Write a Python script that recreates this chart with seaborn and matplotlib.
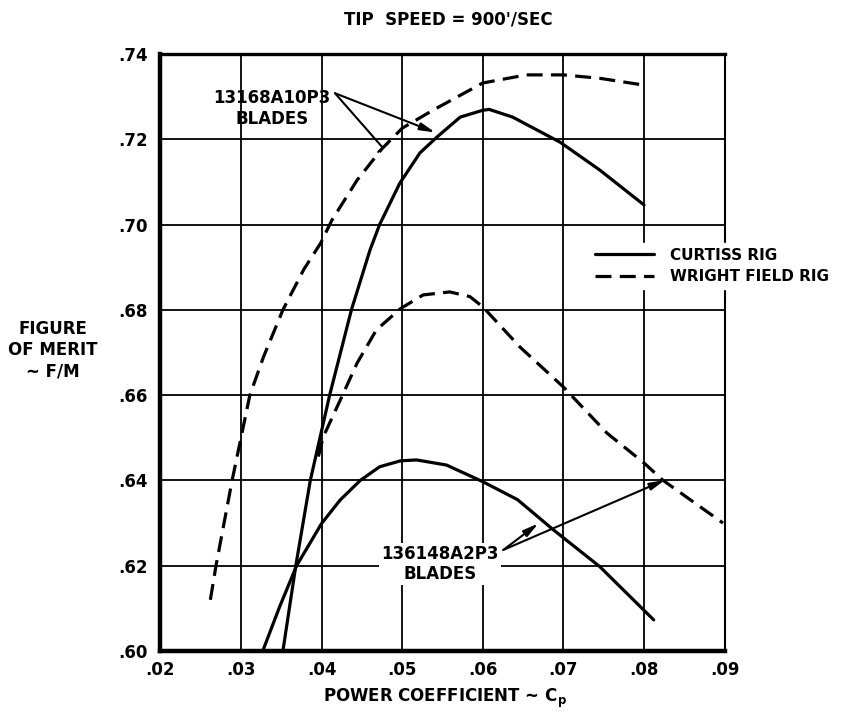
import matplotlib
matplotlib.use("Agg")
import matplotlib.pyplot as plt
import numpy as np
import pandas as pd
import seaborn as sns

# ---------------- data ----------------
rig_labels = ["CURTISS RIG", "WRIGHT FIELD RIG"]
blade_labels = ["13168A10P3", "136148A2P3"]

# 13168A10P3 blades, Curtiss rig (upper solid)
cp_curtiss_a = [0.0352, 0.0368, 0.0386, 0.0410, 0.0437, 0.0460, 0.0472, 0.0497,
                0.0522, 0.0543, 0.0572, 0.0600, 0.0608, 0.0637, 0.0696, 0.0745, 0.0800]
fm_curtiss_a = [0.600, 0.620, 0.640, 0.660, 0.680, 0.694, 0.700, 0.7097,
                0.7168, 0.7205, 0.7252, 0.7268, 0.7270, 0.7252, 0.7193, 0.7128, 0.7046]

# 13168A10P3 blades, Wright Field rig (upper dashed)
cp_wright_a = [0.0262, 0.0269, 0.0289, 0.0300, 0.0311, 0.0328, 0.0352, 0.0378,
               0.0399, 0.0413, 0.0444, 0.0475, 0.0500, 0.0538, 0.0568, 0.0600,
               0.0654, 0.0700, 0.0745, 0.0800]
fm_wright_a = [0.612, 0.620, 0.640, 0.650, 0.660, 0.669, 0.680, 0.6895,
               0.6957, 0.7011, 0.7104, 0.7178, 0.7226, 0.7268, 0.7299, 0.7332,
               0.7351, 0.7351, 0.7343, 0.7327]

# 136148A2P3 blades, Curtiss rig (lower solid)
cp_curtiss_b = [0.0327, 0.0348, 0.0369, 0.0400, 0.0423, 0.0448, 0.0472, 0.0498,
                0.0518, 0.0555, 0.0600, 0.0643, 0.0687, 0.0745, 0.0812]
fm_curtiss_b = [0.600, 0.6104, 0.620, 0.6299, 0.6354, 0.640, 0.6432, 0.6446,
                0.6448, 0.6436, 0.6397, 0.6355, 0.6285, 0.6198, 0.6073]

# 136148A2P3 blades, Wright Field rig (lower dashed)
cp_wright_b = [0.0396, 0.0402, 0.0425, 0.0444, 0.0468, 0.0498, 0.0526, 0.0559,
               0.0584, 0.0600, 0.0646, 0.0700, 0.0754, 0.0800, 0.0823, 0.0898]
fm_wright_b = [0.6456, 0.6502, 0.6596, 0.6675, 0.6753, 0.6803, 0.6835, 0.6842,
               0.6831, 0.6807, 0.6713, 0.6619, 0.6511, 0.6441, 0.6401, 0.6300]

x_ticks = [0.02, 0.03, 0.04, 0.05, 0.06, 0.07, 0.08, 0.09]
x_tick_labels = [".02", ".03", ".04", ".05", ".06", ".07", ".08", ".09"]
y_ticks = [0.60, 0.62, 0.64, 0.66, 0.68, 0.70, 0.72, 0.74]
y_tick_labels = [".60", ".62", ".64", ".66", ".68", ".70", ".72", ".74"]

title_text = "TIP  SPEED = 900'/SEC"
xlabel_text = "POWER COEFFICIENT ~ C$_p$"
ylabel_text = "FIGURE\nOF MERIT\n~ F/M"

# ---------------- table ----------------
frames = []
for cp, fm, rig, blade in [
    (cp_curtiss_a, fm_curtiss_a, rig_labels[0], blade_labels[0]),
    (cp_curtiss_b, fm_curtiss_b, rig_labels[0], blade_labels[1]),
    (cp_wright_a, fm_wright_a, rig_labels[1], blade_labels[0]),
    (cp_wright_b, fm_wright_b, rig_labels[1], blade_labels[1]),
]:
    frames.append(pd.DataFrame({"cp": cp, "fm": fm, "rig": rig, "blade": blade}))
df = pd.concat(frames, ignore_index=True)

# ---------------- style ----------------
sns.set_style("white")
plt.rcParams["font.family"] = ["DejaVu Sans"]
plt.rcParams["font.weight"] = "bold"
plt.rcParams["mathtext.default"] = "regular"
plt.rcParams["text.color"] = "black"
plt.rcParams["axes.labelcolor"] = "black"
plt.rcParams["xtick.color"] = "black"
plt.rcParams["ytick.color"] = "black"

fig = plt.figure(figsize=(8.54, 7.16), dpi=100)
ax = fig.add_axes([0.1878, 0.0908, 0.6607, 0.8338])

LW = 2.3
sns.lineplot(data=df, x="cp", y="fm", style="rig", units="blade",
             estimator=None, sort=False, color="black", linewidth=LW,
             style_order=rig_labels,
             dashes={rig_labels[0]: "", rig_labels[1]: (5.0, 2.6)},
             ax=ax)

ax.set_xlim(0.02, 0.09)
ax.set_ylim(0.60, 0.74)
ax.set_xticks(x_ticks)
ax.set_xticklabels(x_tick_labels)
ax.set_yticks(y_ticks)
ax.set_yticklabels(y_tick_labels)
ax.tick_params(axis="both", length=0, labelsize=12, colors="black")
ax.tick_params(axis="y", pad=9)
ax.tick_params(axis="x", pad=7)
for lab in ax.get_xticklabels() + ax.get_yticklabels():
    lab.set_fontweight("bold")
    lab.set_color("black")

ax.grid(True, color="black", linewidth=1.3)
ax.set_axisbelow(True)
for side, lw in [("left", 3.2), ("bottom", 3.2), ("top", 2.4), ("right", 1.5)]:
    ax.spines[side].set_visible(True)
    ax.spines[side].set_color("black")
    ax.spines[side].set_linewidth(lw)

ax.set_xlabel(xlabel_text, fontsize=12, fontweight="bold", color="black")
ax.xaxis.set_label_coords(0.5044, -0.0787)
ax.xaxis.label.set_va("center")
ax.set_ylabel(ylabel_text, fontsize=12, fontweight="bold", rotation=0, color="black",
              ha="center", va="center", multialignment="center", linespacing=1.25)
ax.yaxis.set_label_coords(-0.190, 0.504)

fig.text(448 / 854, 1 - 19 / 716, title_text, ha="center", va="center",
         fontsize=12, fontweight="bold", color="black")

# legend
sns.move_legend(ax, "center left", bbox_to_anchor=(0.691, 0.6285),
                bbox_transform=fig.transFigure, title=None, frameon=True,
                facecolor="white", edgecolor="white", framealpha=1,
                fancybox=False, borderpad=0.3, handlelength=3.9,
                handletextpad=1.0, labelspacing=0.45, borderaxespad=0,
                prop={"weight": "bold", "size": 11})
leg = ax.get_legend()
for h in leg.legend_handles:
    h.set_linewidth(LW)
    h.set_color("black")
for t in leg.get_texts():
    t.set_color("black")

# annotations
ax.text(0.03385, 0.7273, "13168A10P3\nBLADES", ha="center", va="center",
        fontsize=12, fontweight="bold", linespacing=1.2, color="black")
ax.annotate("", xy=(0.0476, 0.7180), xytext=(0.04166, 0.7308),
            arrowprops=dict(arrowstyle="-[, widthB=0.45, lengthB=0.0",
                            color="black", lw=1.5, shrinkA=0, shrinkB=0))
ax.annotate("", xy=(0.0541, 0.7216), xytext=(0.04166, 0.7308),
            arrowprops=dict(arrowstyle="-|>, head_length=0.9, head_width=0.22",
                            color="black", lw=1.5, shrinkA=0, shrinkB=0))

ax.text(0.05469, 0.6204, "136148A2P3\nBLADES", ha="center", va="center",
        fontsize=12, fontweight="bold", linespacing=1.2, color="black",
        bbox=dict(facecolor="white", edgecolor="none", pad=1.5))
ax.annotate("", xy=(0.06689, 0.6299), xytext=(0.06254, 0.6237),
            arrowprops=dict(arrowstyle="-|>, head_length=0.9, head_width=0.22",
                            color="black", lw=1.5, shrinkA=0, shrinkB=0))
ax.annotate("", xy=(0.0826, 0.6401), xytext=(0.06254, 0.6237),
            arrowprops=dict(arrowstyle="-|>, head_length=0.9, head_width=0.22",
                            color="black", lw=1.5, shrinkA=0, shrinkB=0))

fig.savefig("out.png", dpi=100, facecolor="white")
